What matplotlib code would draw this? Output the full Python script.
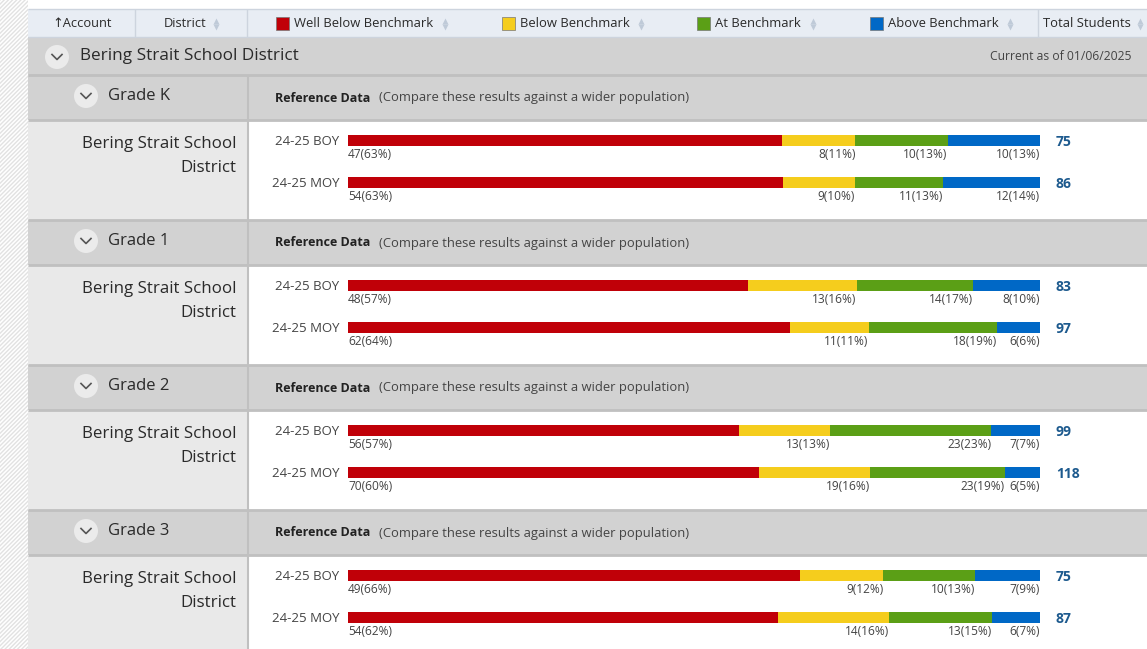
import matplotlib
matplotlib.use("Agg")
import matplotlib.pyplot as plt
from matplotlib.patches import Rectangle, Circle

plt.rcParams["font.family"] = ["Open Sans", "DejaVu Sans"]

# dados
district = "Bering Strait School District"
as_of = "Current as of 01/06/2025"
grades = ["Grade K", "Grade 1", "Grade 2", "Grade 3"]
periods = ["24-25 BOY", "24-25 MOY"]
categories = ["Well Below Benchmark", "Below Benchmark", "At Benchmark", "Above Benchmark"]
colors = ["#c00008", "#f5cd1d", "#5b9f16", "#0068c6"]

well_below = [[47, 54], [48, 62], [56, 70], [49, 54]]
below = [[8, 9], [13, 11], [13, 19], [9, 14]]
at_bm = [[10, 11], [14, 18], [23, 23], [10, 13]]
above = [[10, 12], [8, 6], [7, 6], [7, 6]]
totals = [[75, 86], [83, 97], [99, 118], [75, 87]]
pct_well_below = [[63, 63], [57, 64], [57, 60], [66, 62]]
pct_below = [[11, 10], [16, 11], [13, 16], [12, 16]]
pct_at = [[13, 13], [17, 19], [23, 19], [13, 15]]
pct_above = [[13, 14], [10, 6], [7, 5], [9, 7]]

W, H = 1147, 649
fig = plt.figure(figsize=(W / 100, H / 100), dpi=100)
ax = fig.add_axes([0, 0, 1, 1])
ax.set_xlim(0, W)
ax.set_ylim(H, 0)
ax.axis("off")

TXT = "#2a2a2a"
GRAY = "#d2d2d2"
LINE = "#c0c0c0"

# faixa hachurada a esquerda
ax.add_patch(Rectangle((0, 0), 28, H, facecolor="white", edgecolor="#e2e2e2",
                       hatch="////////", linewidth=0))
ax.add_patch(Rectangle((28, 0), W - 28, 9, facecolor="white", linewidth=0))

# cabecalho
ax.add_patch(Rectangle((28, 9), W - 28, 28, facecolor="#e8edf4", edgecolor="none"))
ax.hlines([9, 37], 28, W, color="#cdd4de", lw=1)
ax.vlines([135, 247, 1038], 9, 37, color="#cdd4de", lw=1)


def sort_arrows(x, y):
    ax.plot([x], [y - 3], marker="^", ms=4, color="#bfcad8", mec="none")
    ax.plot([x], [y + 3], marker="v", ms=4, color="#bfcad8", mec="none")


hy = 23.5
ax.text(82, hy, "\u2191Account", ha="center", va="center", fontsize=9.3, color=TXT)
ax.text(185, hy, "District", ha="center", va="center", fontsize=9.3, color=TXT)
sort_arrows(216, hy)
leg_x = [276, 502, 697, 870]
leg_arrow = [445, 641, 813, 1010]
for lx, ar, lab, c in zip(leg_x, leg_arrow, categories, colors):
    ax.add_patch(Rectangle((lx, 17), 13, 13, facecolor=c, edgecolor="#777777", lw=0.5))
    ax.text(lx + 18, hy, lab, ha="left", va="center", fontsize=9.4, color=TXT)
    sort_arrows(ar, hy)
ax.text(1043, hy, "Total Students", ha="left", va="center", fontsize=9.4, color=TXT)
sort_arrows(1140, hy)


def chevron(cx, cy):
    ax.add_patch(Circle((cx, cy), 12, facecolor="#ebebeb", edgecolor="none"))
    ax.plot([cx - 5, cx, cx + 5], [cy - 2.5, cy + 2.5, cy - 2.5], color="#555555", lw=1.2)


# linha do distrito
ax.add_patch(Rectangle((28, 37), W - 28, 38, facecolor=GRAY, edgecolor="none"))
chevron(57, 57)
ax.text(80, 56, district, ha="left", va="center", fontsize=12.3, color=TXT)
ax.text(1132, 57, as_of, ha="right", va="center", fontsize=8.7, color="#444444")

for i, grade in enumerate(grades):
    top = 75 + 145 * i
    # linha da serie
    ax.add_patch(Rectangle((28, top), W - 28, 45, facecolor=GRAY, edgecolor="none"))
    ax.hlines([top, top + 45], 28, W, color=LINE, lw=2)
    ax.vlines(248, top, top + 45, color=LINE, lw=1.5)
    chevron(86, top + 21)
    ax.text(108, top + 21, grade, ha="left", va="center", fontsize=12, color=TXT)
    ax.text(275, top + 23, "Reference Data", ha="left", va="center", fontsize=9,
            color="#222222", fontweight="bold")
    ax.text(379, top + 23, "(Compare these results against a wider population)",
            ha="left", va="center", fontsize=9.4, color="#444444")
    # linha de dados
    ax.add_patch(Rectangle((28, top + 46), 220, 99, facecolor="#e9e9e9", edgecolor="none"))
    ax.vlines(248, top + 46, top + 145, color=LINE, lw=1.5)
    ax.text(236, top + 69, "Bering Strait School", ha="right", va="center",
            fontsize=12.2, color=TXT)
    ax.text(236, top + 93, "District", ha="right", va="center", fontsize=12.2, color=TXT)

    # barras empilhadas
    c1 = top + 65.5
    c2 = top + 107.5
    bax = fig.add_axes([348 / W, 1 - (c2 + 21) / H, 692 / W, 84 / H])
    bax.set_xlim(0, 100)
    bax.set_ylim(1.5, -0.5)
    bax.axis("off")
    bax.patch.set_alpha(0)
    counts = [well_below[i], below[i], at_bm[i], above[i]]
    pcts = [pct_well_below[i], pct_below[i], pct_at[i], pct_above[i]]
    for r in range(2):
        left = 0.0
        for k in range(4):
            w = counts[k][r] / totals[i][r] * 100
            bax.barh(r, w, left=left, height=11 / 42, color=colors[k], linewidth=0)
            lab = f"{counts[k][r]}({pcts[k][r]}%)"
            if k == 0:
                bax.text(0, r + 0.34, lab, ha="left", va="center", fontsize=8.6, color="#444444")
            else:
                bax.text(left + w, r + 0.34, lab, ha="right", va="center", fontsize=8.6,
                         color="#444444")
            left += w
        bax.text(-9 / 6.92, r + 0.02, periods[r], ha="right", va="center", fontsize=9.5,
                 color="#444444")
        bax.text(100 + 16 / 6.92, r + 0.04, str(totals[i][r]), ha="left", va="center",
                 fontsize=10, color="#1d5a8e", fontweight="bold")

fig.savefig("out.png", dpi=100)
